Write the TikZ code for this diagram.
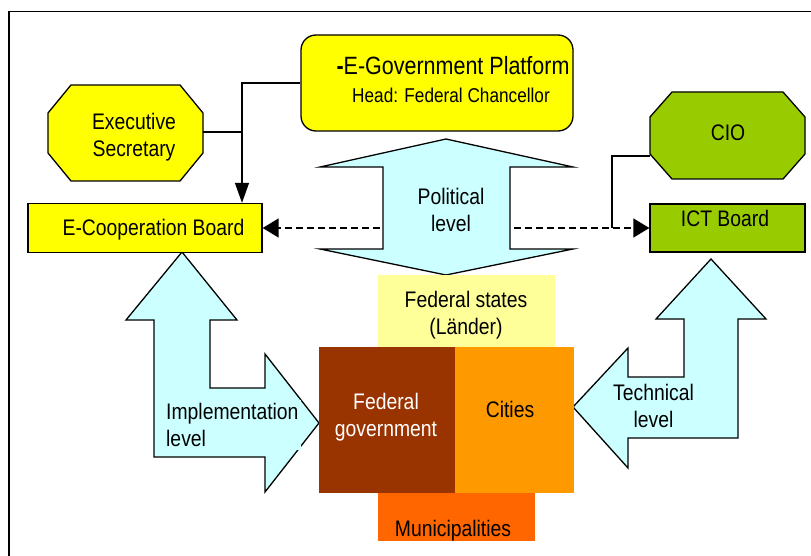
\documentclass[tikz,border=0pt]{standalone}
\usepackage{fontspec}
\setmainfont{Liberation Sans}[FakeStretch=0.86]
\usetikzlibrary{arrows.meta}

\definecolor{boardyellow}{HTML}{FFFF00}
\definecolor{ictgreen}{HTML}{99CC00}
\definecolor{levelcyan}{HTML}{CCFFFF}
\definecolor{statesyellow}{HTML}{FFFF99}
\definecolor{fedbrown}{HTML}{993300}
\definecolor{cityorange}{HTML}{FF9900}
\definecolor{munorange}{HTML}{FF6600}

\begin{document}
\begin{tikzpicture}[x=1pt,y=-1pt,
  outline/.style={draw=black,line width=1.3pt,line join=miter},
  levelarrow/.style={outline,fill=levelcyan},
  boardbox/.style={outline,rectangle,inner sep=0pt},
  anchorbox/.style={rectangle,inner sep=0pt},
  layerbox/.style={rectangle,inner sep=0pt,draw=none},
  label/.style={inner sep=0pt,align=center,font=\fontsize{22.5}{27}\selectfont},
  link/.style={draw=black,line width=1.3pt},
  solidarrow/.style={link,-{Triangle[length=20pt,width=14pt]}},
  dasharrow/.style={link,line width=1.5pt,dash pattern=on 7pt off 4pt,-{Triangle[length=16pt,width=19pt]}}]

\path[use as bounding box] (0,0) rectangle (811,556);
\clip (0,0) rectangle (811,556);

% outer frame
\draw[line width=1.6pt] (9,11.5) rectangle (840,590);

% level arrows
\draw[levelarrow] (446,139) -- (573,167) -- (510,167) -- (510,249) -- (573,249)
  -- (446,275) -- (320,249) -- (383,249) -- (383,167) -- (320,167) -- cycle;
\draw[levelarrow] (182,252) -- (237,320) -- (210,320) -- (210,388) -- (265,388)
  -- (265,354) -- (319,423) -- (265,492) -- (265,457) -- (154,457) -- (154,320)
  -- (126,320) -- cycle;
\draw[levelarrow] (711,259) -- (766,319) -- (738,319) -- (738,438) -- (628,438)
  -- (628,468) -- (573,407) -- (628,348) -- (628,377) -- (684,377) -- (684,319)
  -- (656,319) -- cycle;

% government layers
\node[layerbox,fill=statesyellow,minimum width=177pt,minimum height=72pt] (states) at (466.5,311) {};
\node[layerbox,fill=fedbrown,minimum width=136pt,minimum height=146pt] (fedgov) at (387,420) {};
\node[layerbox,fill=cityorange,minimum width=119pt,minimum height=146pt] (cities) at (514.5,420) {};
\node[layerbox,fill=munorange,minimum width=157pt,minimum height=48pt] (mun) at (456.5,517) {};

% boards and offices
\node[boardbox,fill=boardyellow,rounded corners=15pt,minimum width=272pt,minimum height=96pt] (egov) at (437,83) {};
\node[boardbox,fill=boardyellow,minimum width=234pt,minimum height=49pt] (ecb) at (145,228) {};
\node[boardbox,fill=ictgreen,minimum width=155pt,minimum height=48pt] (ict) at (727.5,228) {};

\draw[outline,fill=boardyellow] (71,85) -- (180,85) -- (203,113) -- (203,153)
  -- (180,181) -- (71,181) -- (48,153) -- (48,113) -- cycle;
\node[anchorbox,minimum width=155pt,minimum height=96pt] (exec) at (125.5,133) {};
\draw[outline,fill=ictgreen] (672,92) -- (783,92) -- (805,117) -- (805,154)
  -- (783,179) -- (672,179) -- (650,154) -- (650,117) -- cycle;
\node[anchorbox,minimum width=155pt,minimum height=87pt] (cio) at (727.5,135.5) {};

% connectors
\coordinate (jE) at (242,132);
\coordinate (jC) at (612,156);
\coordinate (pl) at (380,228);
\coordinate (pr) at (514,228);
\draw[link] (exec.east |- jE) -- (jE);
\draw[solidarrow] (egov.west) -| (jE) -- (jE |- ecb.north);
\draw[dasharrow] (pl) -- (ecb.east);
\draw[dasharrow] (pr) -- (ict.west);
\draw[link] (jC -| cio.west) -- (jC) -- (jC |- ict.west);

% texts
\node[label,font=\fontsize{25}{29}\selectfont] (egovtitle) at (453,66) {\textbf{-}E-Government Platform};
\node[label,font=\fontsize{20}{24}\selectfont] (egovhead) at (451,95) {Head: Federal Chancellor};
\node[label] (exectext) at (134,137) {Executive\\Secretary};
\node[label] (ecbtext) at (153.5,230) {E-Cooperation Board};
\node[label] (ciotext) at (728,133) {CIO};
\node[label] (icttext) at (725,218) {ICT Board};
\node[label] (poltext) at (451,210) {Political\\level};
\node[label] (statestext) at (466,315) {Federal states\\(Länder)};
\node[label,text=white] (fedtext) at (386,417) {Federal\\government};
\node[label] (citiestext) at (510,409.5) {Cities};
\node[label] (muntext) at (453,531) {Municipalities};
\node[label,anchor=west,align=left,inner sep=3pt,fill=levelcyan] (impltext) at (163,425) {Implementation\\level};
\node[label] (techtext) at (653.5,405.5) {Technical\\level};

\end{tikzpicture}
\end{document}
